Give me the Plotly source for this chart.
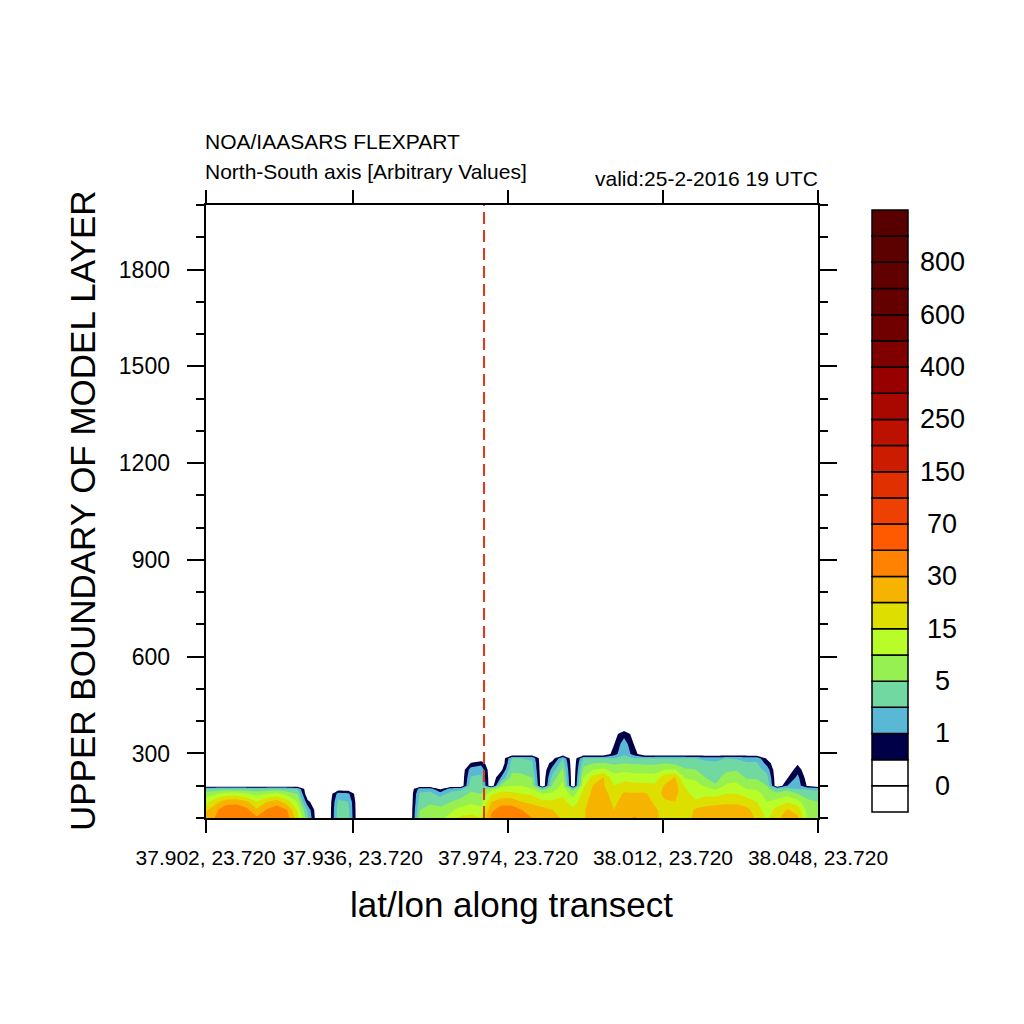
import numpy as np
import plotly.graph_objects as go

# upper boundary of the model layers that carry the plume (m)
heights = [100, 125, 150, 175, 190, 200, 225, 250, 270, 285, 298, 330, 360, 385]

# concentration along the transect (61 points), one list per layer height
conc_100 = [23, 32, 46, 48, 44, 34, 42, 48, 38, 17.5,
            2.9, 0, 0, 3.8, 2.9, 0, 0, 0, 0, 0,
            0, 6.5, 9, 9, 11.5, 16, 16.5, 15, 34, 46,
            48, 42, 30, 30, 26, 19, 17.5, 19, 28, 29,
            22, 26, 32, 27, 22, 18.5, 18, 16, 25, 26,
            27, 28, 28, 26, 19, 14, 19, 25, 22, 9,
            7.5]
conc_125 = [19, 28, 42, 44, 36, 22, 32, 42, 30, 14,
            1.8, 0, 0, 3.5, 2.6, 0, 0, 0, 0, 0,
            0, 5, 7, 6.5, 9, 12, 13, 11.5, 28, 40,
            40, 30, 25, 24, 20, 18, 16, 19, 27, 28,
            20, 25, 26, 25, 21, 19, 19, 15.5, 22, 23,
            24, 25, 25, 23, 17.5, 12.5, 16.5, 21, 18, 8,
            7]
conc_150 = [13, 18, 26, 27, 22, 15, 20, 25, 17, 10,
            0.65, 0, 0, 2.6, 2.0, 0, 0, 0, 0, 0,
            0, 3.5, 4.4, 3.8, 5, 7, 9, 8, 20, 26,
            26, 20, 19, 16.5, 16, 16.5, 12.5, 18, 25, 26,
            19, 23, 23, 23, 19.5, 19.5, 20, 15.5, 15.5, 18,
            18.5, 19, 19, 17.5, 15, 10, 12.5, 14.5, 12, 6,
            5]
conc_175 = [7.5, 9.5, 12, 12.5, 10.5, 8.5, 10, 11.5, 8.5, 5,
            0, 0, 0, 1.4, 1.2, 0, 0, 0, 0, 0,
            0, 2.6, 2.9, 1.6, 2.9, 3.5, 6, 5, 14, 16.5,
            16.5, 15, 14, 10, 11, 14, 7.5, 16.5, 23, 24,
            17.5, 21, 21, 21, 18.5, 22, 23, 16, 13.5, 13.5,
            13, 15, 15, 13, 12, 8, 6, 8, 5, 3.8,
            3.5]
conc_190 = [2.9, 3.2, 3.5, 3.5, 3.2, 2.9, 3.2, 3.5, 2.9, 2,
            0, 0, 0, 0.2, 0.15, 0, 0, 0, 0, 0,
            0, 1.5, 1.6, 0.4, 1.6, 1.8, 4.4, 4.1, 7.5, 13,
            12.5, 11.5, 10, 3.8, 8, 12.5, 3.5, 15, 22, 22,
            16, 19, 18, 18, 17, 22, 24, 15.5, 12, 11,
            9.5, 12.5, 13, 10, 9.5, 6, 2.9, 4.1, 2, 1.9,
            1.8]
conc_200 = [0, 0, 0, 0, 0, 0, 0, 0, 0, 0,
            0, 0, 0, 0, 0, 0, 0, 0, 0, 0,
            0, 0, 0, 0, 0, 0, 3.8, 3.5, 0, 7.5,
            10, 10, 8, 0, 6, 11.5, 0, 14, 21, 21,
            15, 17.5, 16.5, 16.5, 16, 21, 24, 14, 11, 9.5,
            5.5, 11, 11.5, 8, 7.5, 5, 0, 1.0, 1.6, 0.4,
            0]
conc_225 = [0, 0, 0, 0, 0, 0, 0, 0, 0, 0,
            0, 0, 0, 0, 0, 0, 0, 0, 0, 0,
            0, 0, 0, 0, 0, 0, 2.3, 2.6, 0, 1.2,
            6.5, 6.5, 5, 0, 3.5, 9, 0, 10, 17, 20.5,
            12, 13, 12.5, 12.5, 12, 18, 20.5, 9.5, 9.5, 5,
            4.1, 7, 8, 4.7, 4.7, 3.2, 0, 0.45, 1.3, 0.2,
            0]
conc_250 = [0, 0, 0, 0, 0, 0, 0, 0, 0, 0,
            0, 0, 0, 0, 0, 0, 0, 0, 0, 0,
            0, 0, 0, 0, 0, 0, 1.5, 1.7, 0, 0.4,
            4.4, 4.1, 3.5, 0, 1.5, 6, 0, 6.5, 10, 11,
            8, 9, 8, 8, 8, 10, 10, 5.5, 5, 3.8,
            3.2, 4.4, 4.7, 3.5, 3.5, 1.6, 0, 0, 0.8, 0,
            0]
conc_270 = [0, 0, 0, 0, 0, 0, 0, 0, 0, 0,
            0, 0, 0, 0, 0, 0, 0, 0, 0, 0,
            0, 0, 0, 0, 0, 0, 0.53, 0.8, 0, 0,
            3.2, 2.9, 2.6, 0, 0.75, 3.8, 0, 3.8, 5, 5.5,
            4.4, 5, 4.7, 4.4, 4.4, 5, 4.4, 3.5, 3.5, 2.9,
            2.6, 3.2, 3.2, 2.3, 2.3, 0.8, 0, 0, 0.4, 0,
            0]
conc_285 = [0, 0, 0, 0, 0, 0, 0, 0, 0, 0,
            0, 0, 0, 0, 0, 0, 0, 0, 0, 0,
            0, 0, 0, 0, 0, 0, 0, 0, 0, 0,
            2, 2, 1.8, 0, 0.25, 2, 0, 2, 2, 2,
            2, 2.9, 2, 2, 2, 2.3, 2.3, 2, 2, 1.7,
            1.6, 2, 1.9, 1.7, 1.7, 0.4, 0, 0, 0, 0,
            0]
conc_298 = [0] * 40 + [0.75, 1.9, 0.75] + [0] * 18
conc_330 = [0] * 40 + [0.45, 1.6, 0.45] + [0] * 18
conc_360 = [0] * 40 + [0.3, 0.8, 0.3] + [0] * 18
conc_385 = [0] * 61

# contour levels and their fill colours (one more colour than levels)
levels = [0, 0.5, 1, 2, 5, 10, 15, 20, 30, 50, 70, 100,
          150, 200, 250, 300, 400, 500, 600, 700, 800, 900]
band_colors = ['#ffffff', '#ffffff', '#000048', '#58b8d6', '#70d8a0', '#96f052',
               '#b8fc28', '#dede00', '#f6b400', '#ff8200', '#ff5a00', '#ee4000',
               '#e03000', '#cc1c00', '#bc1000', '#a80800', '#980000', '#800000',
               '#700000', '#640000', '#600000', '#5c0000', '#580000']

tick_pos = [0, 14.42, 29.63, 44.81, 60]
tick_labels = ['37.902, 23.720', '37.936, 23.720', '37.974, 23.720',
               '38.012, 23.720', '38.048, 23.720']
source_pos = 27.28

FONT = 'Liberation Sans, Arial, sans-serif'
W = 1008  # page body adds an 8px margin round the figure


def px(x):
    # screen pixel -> paper x
    return (x - 8) / W


def py(y):
    # screen pixel -> paper y
    return 1 - (y - 8) / W


conc = np.array([conc_100, conc_125, conc_150, conc_175, conc_190, conc_200,
                 conc_225, conc_250, conc_270, conc_285, conc_298, conc_330,
                 conc_360, conc_385], dtype=float)
# uneven levels -> level number, so plotly can use equal contour steps
lev_idx = np.arange(len(levels))
zi = np.interp(conc, levels, lev_idx)
xs = np.arange(conc.shape[1])

nb = len(band_colors)
scale = []
for k, c in enumerate(band_colors):
    lo = max(0.0, (k - 0.5) / (nb - 1))
    hi = min(1.0, (k + 0.5) / (nb - 1))
    scale.append([lo, c])
    scale.append([hi, c])

fig = go.Figure()

fig.add_trace(go.Contour(
    x=xs, y=heights, z=zi,
    autocontour=False,
    contours=dict(start=0.001, end=len(levels) - 1 + 0.001, size=1,
                  coloring='fill', showlines=False),
    colorscale=scale, showscale=False,
    line=dict(width=0, smoothing=0),
    hoverinfo='skip'))

fig.add_trace(go.Scatter(
    x=[source_pos, source_pos], y=[100, 2000], mode='lines',
    line=dict(color='#e03414', width=2, dash='12px,6px'),
    showlegend=False, hoverinfo='skip'))

# label bar, drawn as stacked boxes so each one gets a black frame
fig.add_trace(go.Bar(
    x=[0] * nb, y=[1] * nb, base=list(range(-1, nb - 1)), width=1,
    marker=dict(color=band_colors, line=dict(color='black', width=1.5)),
    xaxis='x2', yaxis='y2', showlegend=False, hoverinfo='skip'))

ann = []
for i in range(0, len(levels), 2):
    ann.append(dict(text=f'{levels[i]:g}', xref='paper', yref='y2',
                    x=px(942), y=i, xanchor='center', yanchor='middle',
                    showarrow=False, font=dict(size=27, color='black')))

ann += [
    dict(text='NOA/IAASARS FLEXPART', xref='paper', yref='paper',
         x=px(203), y=py(142), xanchor='left', yanchor='middle',
         showarrow=False, font=dict(size=21)),
    dict(text='North-South axis [Arbitrary Values]', xref='paper', yref='paper',
         x=px(203), y=py(172), xanchor='left', yanchor='middle',
         showarrow=False, font=dict(size=21)),
    dict(text='valid:25-2-2016 19 UTC', xref='paper', yref='paper',
         x=px(820), y=py(178), xanchor='right', yanchor='middle',
         showarrow=False, font=dict(size=21)),
    dict(text='UPPER BOUNDARY OF MODEL LAYER', xref='paper', yref='paper',
         x=px(82), y=py(511), xanchor='center', yanchor='middle',
         textangle=-90, showarrow=False, font=dict(size=35)),
    dict(text='lat/lon along transect', xref='paper', yref='paper',
         x=px(511), y=py(904), xanchor='center', yanchor='middle',
         showarrow=False, font=dict(size=35)),
]

fig.update_layout(
    width=W, height=W,
    margin=dict(l=0, r=0, t=0, b=0, pad=0, autoexpand=False),
    paper_bgcolor='white', plot_bgcolor='white',
    font=dict(family=FONT, color='black'),
    showlegend=False, hovermode=False,
    annotations=ann,
    xaxis=dict(domain=[px(205.6), px(818)], range=[0, 60],
               tickmode='array', tickvals=tick_pos, ticktext=tick_labels,
               tickangle=0, automargin=False,
               ticks='outside', ticklen=13, tickwidth=2, tickcolor='black',
               showline=True, linewidth=2, linecolor='black', mirror='ticks',
               showgrid=False, zeroline=False, tickfont=dict(size=21),
               ticklabelstandoff=7),
    yaxis=dict(domain=[py(818), py(205)], range=[100, 2000],
               tick0=0, dtick=300, automargin=False,
               ticks='outside', ticklen=17, tickwidth=2, tickcolor='black',
               minor=dict(tick0=0, dtick=100, ticks='outside', ticklen=8,
                          tickwidth=2, tickcolor='black'),
               showline=True, linewidth=2, linecolor='black', mirror='ticks',
               showgrid=False, zeroline=False, tickfont=dict(size=23),
               ticklabelstandoff=12),
    xaxis2=dict(domain=[px(870), px(910)], range=[-20 / 36, 20 / 36],
                visible=False, anchor='y2', automargin=False),
    yaxis2=dict(domain=[py(814), py(208)],
                range=[-1 - 2 / 26.17, nb - 1 + 2 / 26.17],
                visible=False, anchor='x2', automargin=False),
)

fig.write_html('out.html')
